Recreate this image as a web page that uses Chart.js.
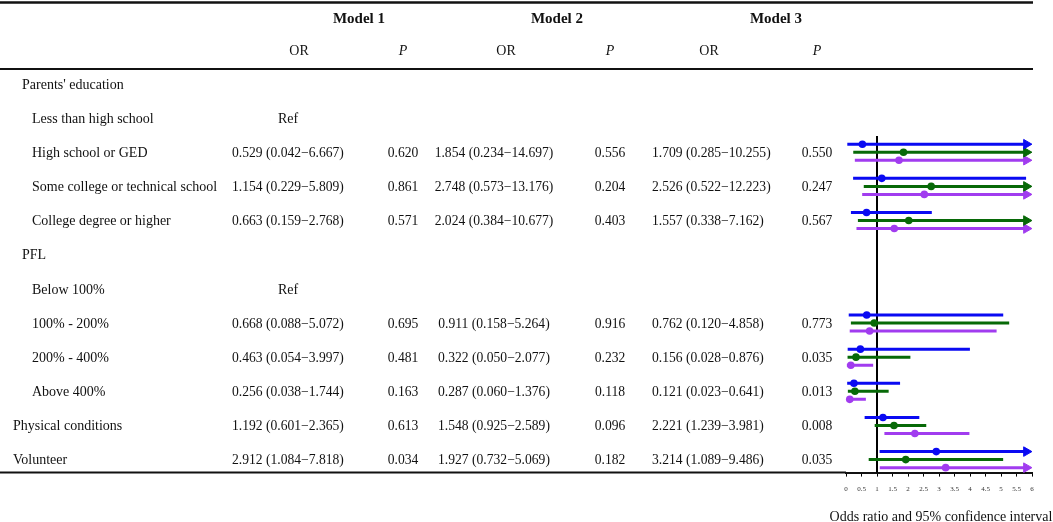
<!DOCTYPE html>
<html>
<head>
<meta charset="utf-8">
<script src="https://cdn.jsdelivr.net/npm/chart.js@4.4.1/dist/chart.umd.min.js"></script>
<style>
  html, body { margin: 0; padding: 0; background: #fff; overflow: hidden; }
  #wrap { width: 1053px; height: 522px; }
</style>
</head>
<body>
<div id="wrap"><canvas id="forest" width="1053" height="522"></canvas></div>
<script>
// rows of the table, top to bottom
const rowLabels = [
  "Parents' education",
  'Less than high school',
  'High school or GED',
  'Some college or technical school',
  'College degree or higher',
  'PFL',
  'Below 100%',
  '100% - 200%',
  '200% - 400%',
  'Above 400%',
  'Physical conditions',
  'Volunteer'
];
const refRows = [1, 6];

// Model 1
const m1Or = [null, null, 0.529, 1.154, 0.663, null, null, 0.668, 0.463, 0.256, 1.192, 2.912];
const m1Lo = [null, null, 0.042, 0.229, 0.159, null, null, 0.088, 0.054, 0.038, 0.601, 1.084];
const m1Hi = [null, null, 6.667, 5.809, 2.768, null, null, 5.072, 3.997, 1.744, 2.365, 7.818];
const m1P  = [null, null, '0.620', '0.861', '0.571', null, null, '0.695', '0.481', '0.163', '0.613', '0.034'];

// Model 2
const m2Or = [null, null, 1.854, 2.748, 2.024, null, null, 0.911, 0.322, 0.287, 1.548, 1.927];
const m2Lo = [null, null, 0.234, 0.573, 0.384, null, null, 0.158, 0.050, 0.060, 0.925, 0.732];
const m2Hi = [null, null, 14.697, 13.176, 10.677, null, null, 5.264, 2.077, 1.376, 2.589, 5.069];
const m2P  = [null, null, '0.556', '0.204', '0.403', null, null, '0.916', '0.232', '0.118', '0.096', '0.182'];

// Model 3
const m3Or = [null, null, 1.709, 2.526, 1.557, null, null, 0.762, 0.156, 0.121, 2.221, 3.214];
const m3Lo = [null, null, 0.285, 0.522, 0.338, null, null, 0.120, 0.028, 0.023, 1.239, 1.089];
const m3Hi = [null, null, 10.255, 12.223, 7.162, null, null, 4.858, 0.876, 0.641, 3.981, 9.486];
const m3P  = [null, null, '0.550', '0.247', '0.567', null, null, '0.773', '0.035', '0.013', '0.008', '0.035'];

const xMin = 0, xMax = 6, xStep = 0.5;
const axisTitle = 'Odds ratio and 95% confidence interval';

const models = [
  { name: 'Model 1', or: m1Or, lo: m1Lo, hi: m1Hi, p: m1P, color: '#0a0af2', orX: 232, orAlign: 'left', orHead: 299, pX: 403, headX: 359 },
  { name: 'Model 2', or: m2Or, lo: m2Lo, hi: m2Hi, p: m2P, color: '#076907', orX: 494, orAlign: 'center', orHead: 506, pX: 610, headX: 557 },
  { name: 'Model 3', or: m3Or, lo: m3Lo, hi: m3Hi, p: m3P, color: '#a13cef', orX: 652, orAlign: 'left', orHead: 709, pX: 817, headX: 776 }
];

const offsets = [-0.235, 0, 0.235];   // blue / green / purple inside a row
const arrowRadius = 5.5;
const arrowX = xMax - 0.18;

const datasets = [];
models.forEach((m, k) => {
  const ci = [], pts = [], arrows = [];
  rowLabels.forEach((_, i) => {
    if (m.or[i] == null) return;
    const yv = i + offsets[k];
    ci.push({ x: m.lo[i], y: yv }, { x: Math.min(m.hi[i], arrowX), y: yv }, { x: null, y: null });
    pts.push({ x: m.or[i], y: yv });
    if (m.hi[i] > xMax) arrows.push({ x: arrowX, y: yv });
  });
  datasets.push({
    data: ci, showLine: true, spanGaps: false, borderColor: m.color, borderWidth: 3,
    borderCapStyle: 'butt', pointRadius: 0, clip: false, order: 3
  });
  datasets.push({
    data: arrows, pointStyle: 'triangle', rotation: 90, pointRadius: arrowRadius,
    backgroundColor: m.color, borderColor: m.color, borderWidth: 1, clip: false, order: 2
  });
  datasets.push({
    data: pts, pointRadius: 3.8, backgroundColor: m.color, borderWidth: 0, clip: false, order: 1
  });
});

const fmt = v => v.toFixed(3);
const serif = '"Liberation Serif", "Times New Roman", serif';

const tablePlugin = {
  id: 'table',
  beforeDraw(chart) {
    const ctx = chart.ctx;
    ctx.save();
    ctx.fillStyle = '#fff';
    ctx.fillRect(0, 0, chart.width, chart.height);
    ctx.restore();
  },
  beforeDatasetsDraw(chart) {
    const { ctx, chartArea, scales: { x } } = chart;
    const px = x.getPixelForValue(1);
    ctx.save();
    ctx.strokeStyle = '#000';
    ctx.lineWidth = 2;
    ctx.beginPath();
    ctx.moveTo(px, chartArea.top);
    ctx.lineTo(px, chartArea.bottom);
    ctx.stroke();
    ctx.restore();
  },
  afterDraw(chart) {
    const { ctx, chartArea, scales: { x, y } } = chart;
    const right = x.right + 1;
    ctx.save();
    ctx.strokeStyle = '#111';
    ctx.lineWidth = 2.5;
    ctx.beginPath(); ctx.moveTo(0, 2.5); ctx.lineTo(right, 2.5); ctx.stroke();
    ctx.lineWidth = 2;
    ctx.beginPath(); ctx.moveTo(0, 69); ctx.lineTo(right, 69); ctx.stroke();
    ctx.beginPath(); ctx.moveTo(0, chartArea.bottom); ctx.lineTo(chartArea.left, chartArea.bottom); ctx.stroke();

    ctx.fillStyle = '#111';
    ctx.textBaseline = 'middle';
    models.forEach(m => {
      ctx.textAlign = 'center';
      ctx.font = 'bold 15px ' + serif;
      ctx.fillText(m.name, m.headX, 19);
      ctx.font = '14px ' + serif;
      ctx.fillText('OR', m.orHead, 51);
      ctx.font = 'italic 14px ' + serif;
      ctx.fillText('P', m.pX, 51);
    });

    rowLabels.forEach((lab, i) => {
      const yy = y.getPixelForValue(i) + 1;
      const indent = (i === 0 || i === 5) ? 22 : (i >= 10 ? 13 : 32);
      ctx.font = '14px ' + serif;
      ctx.textAlign = 'left';
      ctx.fillText(lab, indent, yy);
      if (refRows.includes(i)) {
        ctx.textAlign = 'center';
        ctx.fillText('Ref', 288, yy);
      }
      models.forEach(m => {
        if (m.or[i] == null) return;
        ctx.font = '13.6px ' + serif;
        ctx.textAlign = m.orAlign;
        ctx.fillText(fmt(m.or[i]) + ' (' + fmt(m.lo[i]) + '\u2212' + fmt(m.hi[i]) + ')', m.orX, yy);
        ctx.textAlign = 'center';
        ctx.fillText(m.p[i], m.pX, yy);
      });
    });

    // axis caption, wider than the plot area
    ctx.font = '14px ' + serif;
    ctx.textAlign = 'center';
    ctx.textBaseline = 'alphabetic';
    ctx.fillText(axisTitle, (x.left + x.right) / 2 + 2, 521);
    ctx.restore();
  }
};

new Chart(document.getElementById('forest'), {
  type: 'scatter',
  data: { datasets },
  options: {
    responsive: false,
    animation: false,
    events: [],
    layout: { padding: { left: 846, right: 21, top: 136, bottom: 21 } },
    plugins: { legend: { display: false }, tooltip: { enabled: false } },
    scales: {
      x: {
        type: 'linear', position: 'bottom', min: xMin, max: xMax,
        ticks: {
          stepSize: xStep, autoSkip: false, maxRotation: 0, padding: 8,
          color: '#333', font: { family: serif, size: 7 },
          callback: v => String(v)
        },
        grid: { drawOnChartArea: false, drawTicks: true, tickLength: 4, color: '#000', lineWidth: 1 },
        border: { display: true, color: '#111', width: 2 },
        title: { display: false }
      },
      y: {
        type: 'linear', display: false, reverse: true, min: 1.525, max: 11.38
      }
    }
  },
  plugins: [tablePlugin]
});
</script>
</body>
</html>
